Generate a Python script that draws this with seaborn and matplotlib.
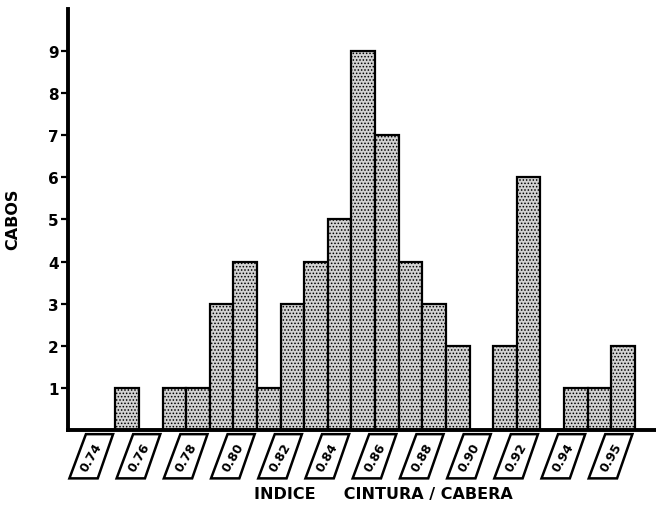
import matplotlib
matplotlib.use("Agg")
import matplotlib.pyplot as plt
from matplotlib.patches import Polygon
import seaborn as sns

# Histograma: índice cintura/cadera (bins de 0.01)
indice = ['0.74', '0.75', '0.76', '0.77', '0.78', '0.79', '0.80', '0.81',
          '0.82', '0.83', '0.84', '0.85', '0.86', '0.87', '0.88', '0.89',
          '0.90', '0.91', '0.92', '0.93', '0.94', '0.95', '0.96', '0.97']
casos = [0, 0, 1, 0, 1, 1, 3, 4, 1, 3, 4, 5, 9, 7, 4, 3, 2, 0, 2, 6, 0, 1, 1, 2]

# etiquetas del eje x (una cada dos bins)
etiquetas = ['0.74', '0.76', '0.78', '0.80', '0.82', '0.84',
             '0.86', '0.88', '0.90', '0.92', '0.94', '0.95']
yticks = [1, 2, 3, 4, 5, 6, 7, 8, 9]

sns.set_style('white')
plt.rcParams['font.family'] = ['DejaVu Sans']
plt.rcParams['hatch.linewidth'] = 0.7
plt.rcParams['text.color'] = 'black'
plt.rcParams['ytick.color'] = 'black'
plt.rcParams['axes.edgecolor'] = 'black'

fig = plt.figure(figsize=(6.56, 5.10), dpi=100)
ax = fig.add_axes([0.104, 0.155, 0.896, 0.8255])

sns.barplot(x=indice, y=casos, order=indice, ax=ax, width=1.0,
            color='#d2d2d2', edgecolor='black', linewidth=1.6,
            hatch='.....', saturation=1)

ax.set_xlim(-0.5, 24.4)
ax.set_ylim(0, 10.0)
ax.set_yticks(yticks)
ax.set_yticklabels([str(v) for v in yticks], fontweight='heavy', fontsize=11)
ax.set_xticks([])
ax.tick_params(axis='y', direction='out', length=5, width=1.6, pad=2,
               left=True, colors='black')
ax.set_xlabel('')
ax.set_ylabel('')
sns.despine(ax=ax, top=True, right=True)
ax.spines['left'].set_linewidth(2.8)
ax.spines['bottom'].set_linewidth(2.8)

# cajas inclinadas con las etiquetas del eje x
for i, lab in enumerate(etiquetas):
    x0 = 2 * i
    poly = Polygon([(x0 + 0.25, -0.1), (x0 + 1.4, -0.1),
                    (x0 + 0.75, -1.15), (x0 - 0.45, -1.15)],
                   closed=True, facecolor='white', edgecolor='black',
                   linewidth=1.8, clip_on=False)
    ax.add_patch(poly)
    ax.text(x0 + 0.48, -0.63, lab, rotation=60, ha='center', va='center',
            fontsize=9, fontweight='bold', clip_on=False)

fig.text(0.585, 0.03, 'INDICE     CINTURA / CABERA', ha='center', va='center',
         fontsize=11.5, fontweight='heavy')
fig.text(0.02, 0.569, 'CABOS', ha='center', va='center', rotation=90,
         fontsize=11.5, fontweight='heavy')

fig.savefig('out.png', dpi=100)
